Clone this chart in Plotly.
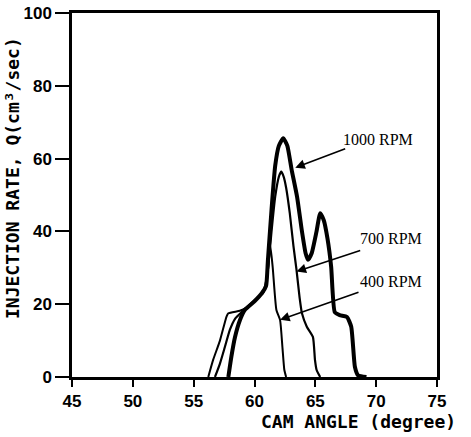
import plotly.graph_objects as go

# Cam angle (degree) and injection rate Q (cm3/sec)
x_1000 = [57.85, 58.1, 58.4, 58.8, 59.2, 60.0, 60.6, 60.95, 61.1, 61.4, 61.7, 62.0, 62.36, 62.7, 63.05, 63.5, 63.9, 64.2, 64.4, 64.7, 65.1, 65.4, 65.7, 66.0, 66.3, 66.6, 67.0, 67.6, 67.95, 68.25, 68.5, 69.2]
y_1000 = [0, 5.6, 11, 15.6, 18.4, 20.8, 23, 25, 32, 46, 58, 63.5, 65.6, 63.5, 57, 49.5, 40, 34, 32.2, 34, 40, 45, 43, 38, 30.3, 17.8, 17.0, 16.5, 13.8, 2.8, 0.5, 0]

x_700 = [56.75, 57.16, 57.57, 57.98, 58.4, 59.0, 60.0, 60.7, 61.0, 61.15, 61.4, 61.7, 62.0, 62.2, 62.4, 62.6, 62.9, 63.2, 63.45, 63.7, 63.9, 64.3, 64.8, 64.97, 65.1, 65.4]
y_700 = [0, 3.7, 8.3, 13, 16, 18, 21, 23.3, 27, 31, 40, 49.5, 55, 56.4, 55, 52, 45, 36, 29.5, 22, 17.5, 13.8, 11, 4.7, 2, 0]

x_400 = [56.2, 56.6, 57.16, 57.7, 57.85, 58.8, 59.3, 60.0, 60.7, 61.0, 61.3, 61.5, 61.8, 62.1, 62.3, 62.45, 62.6]
y_400 = [0, 4.7, 10, 16.6, 17.5, 18.2, 19, 21, 23, 26, 36, 30, 18.4, 15.7, 8, 2, 0]

x_ticks = [45, 50, 55, 60, 65, 70, 75]
y_ticks = [0, 20, 40, 60, 80, 100]

labels = ["1000 RPM", "700 RPM", "400 RPM"]
label_pos = [(378, 139), (391, 238), (391, 281)]     # pixel centres of labels in the photo
arrow_tail = [(346.7, 148.3), (361.7, 250), (360, 291.7)]
arrow_head_data = [(63.35, 57.5), (63.45, 29.0), (62.1, 15.7)]

W, H = 471, 437
L, R, T, B = 72, 34, 13, 60
pw, ph = W - L - R, H - T - B

def px_to_paper(px, py):
    return (px - L) / pw, 1 - (py - T) / ph

def px_to_data(px, py):
    xp, yp = px_to_paper(px, py)
    return 45 + xp * 30, 100 * yp

fig = go.Figure()
fig.add_trace(go.Scatter(x=x_400, y=y_400, mode="lines",
                         line=dict(color="black", width=2, shape="spline", smoothing=0.5)))
fig.add_trace(go.Scatter(x=x_700, y=y_700, mode="lines",
                         line=dict(color="black", width=2.2, shape="spline", smoothing=0.5)))
fig.add_trace(go.Scatter(x=x_1000, y=y_1000, mode="lines",
                         line=dict(color="black", width=4, shape="spline", smoothing=0.5)))

for lab, (lx, ly), (tx, ty), (hx, hy) in zip(labels, label_pos, arrow_tail, arrow_head_data):
    xp, yp = px_to_paper(lx, ly)
    fig.add_annotation(x=xp, y=yp, xref="paper", yref="paper",
                       xanchor="center", yanchor="middle",
                       text=lab, showarrow=False,
                       font=dict(family="Liberation Serif", size=16, color="black"))
    txd, tyd = px_to_data(tx, ty)
    fig.add_annotation(x=hx, y=hy, ax=txd, ay=tyd, xref="x", yref="y", axref="x", ayref="y",
                       text="", showarrow=True, arrowhead=2, arrowsize=1.2, arrowwidth=1.6,
                       arrowcolor="black")

# axis titles
xp, yp = px_to_paper(358, 421)
fig.add_annotation(x=xp, y=yp, xref="paper", yref="paper",
                   xanchor="center", yanchor="middle",
                   text="CAM ANGLE (degree)", showarrow=False,
                   font=dict(family="DejaVu Sans Mono", size=18, color="black", weight="bold"))
xp, yp = px_to_paper(13, 178)
fig.add_annotation(x=xp, y=yp, xref="paper", yref="paper",
                   xanchor="center", yanchor="middle",
                   text="INJECTION RATE, Q(cm³/sec)", showarrow=False, textangle=-90,
                   font=dict(family="DejaVu Sans Mono", size=18, color="black", weight="bold"))

tickfont = dict(family="Liberation Sans", size=17, color="black", weight="bold")
fig.update_xaxes(range=[45, 75], tickvals=x_ticks, ticks="outside", ticklen=7, tickwidth=2,
                 tickcolor="black", showline=True, linewidth=2.5, linecolor="black",
                 mirror=True, showgrid=False, zeroline=False, tickfont=tickfont,
                 automargin=False, ticklabelstandoff=0, ticklabeloverflow="allow")
fig.update_yaxes(range=[0, 100], tickvals=y_ticks, ticks="outside", ticklen=14, tickwidth=2,
                 tickcolor="black", showline=True, linewidth=2.5, linecolor="black",
                 mirror=True, showgrid=False, zeroline=False, tickfont=tickfont,
                 automargin=False, ticklabeloverflow="allow")

fig.update_layout(width=W, height=H, margin=dict(l=L, r=R, t=T, b=B, autoexpand=False),
                  plot_bgcolor="white", paper_bgcolor="white", showlegend=False)

fig.write_html("out.html", config={"displayModeBar": False},
               post_script="document.body.style.margin='0';document.body.style.overflow='hidden';")
